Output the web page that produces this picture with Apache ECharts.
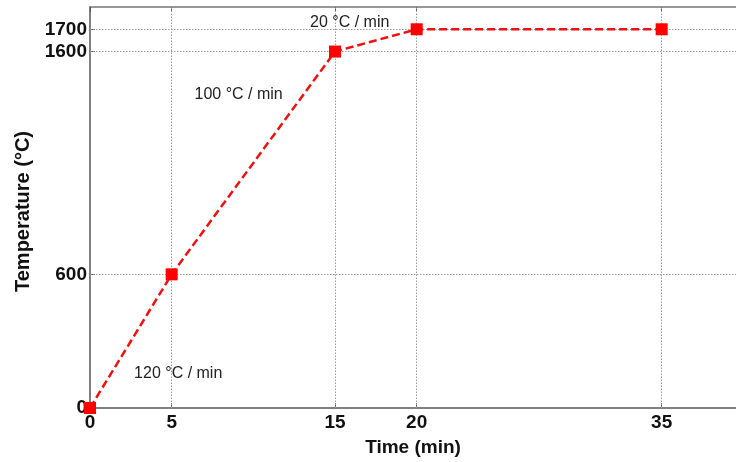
<!DOCTYPE html>
<html><head><meta charset="utf-8">
<script src="https://cdn.jsdelivr.net/npm/echarts@6/dist/echarts.min.js"></script>
<style>html,body{margin:0;padding:0;background:#fff}#c{width:736px;height:462px}</style>
</head><body><div id="c"></div>
<script>
var timeMin = [0, 5, 15, 20, 35];
var temperature = [0, 600, 1600, 1700, 1700];
var xTicks = [0, 5, 15, 20, 35];
var yTicks = [0, 600, 1600, 1700];
var rateLabels = ['120 °C / min', '100 °C / min', '20 °C / min'];
var rateLabelPos = [[5.4, 153], [9.1, 1409], [15.9, 1728]];

var chart = echarts.init(document.getElementById('c'));
var points = timeMin.map(function (t, i) { return [t, temperature[i]]; });
var gridLineStyle = { color: '#9a9a9a', type: [1.5, 1.5], width: 1 };
var vLines = xTicks.filter(function (v) { return v !== 0; }).map(function (v) { return { xAxis: v }; });
var hLines = yTicks.filter(function (v) { return v !== 0; }).map(function (v) { return { yAxis: v }; });
var fam = 'Liberation Sans, Arial, sans-serif';
var tickFont = { fontFamily: fam, fontWeight: 'bold', fontSize: 19, color: '#111' };
var plain = function (v) { return String(v); };

chart.setOption({
  animation: false,
  grid: { left: 90, top: 7, bottom: 54, right: 0 },
  xAxis: [{
    type: 'value', min: 0, max: 39.55, position: 'bottom',
    name: 'Time (min)', nameLocation: 'middle', nameGap: 30,
    nameTextStyle: { fontFamily: fam, fontWeight: 'bold', fontSize: 19, color: '#111' },
    axisLine: { show: true, onZero: false, lineStyle: { color: '#555', width: 1.5 } },
    axisTick: { show: true, inside: true, length: 5, customValues: xTicks, lineStyle: { color: '#555' } },
    axisLabel: Object.assign({ customValues: xTicks, margin: 5, formatter: plain }, tickFont),
    splitLine: { show: false }
  }, {
    type: 'value', min: 0, max: 39.55, position: 'top',
    axisLine: { show: true, onZero: false, lineStyle: { color: '#777', width: 1.5 } },
    axisTick: { show: true, inside: true, length: 5, customValues: xTicks, lineStyle: { color: '#555' } },
    axisLabel: { show: false },
    splitLine: { show: false }
  }],
  yAxis: {
    type: 'value', min: 0, max: 1800,
    name: 'Temperature (°C)', nameLocation: 'middle', nameGap: 57,
    nameTextStyle: { fontFamily: fam, fontWeight: 'bold', fontSize: 20, color: '#111', padding: [0, 8, 0, 0] },
    axisLine: { show: true, onZero: false, lineStyle: { color: '#555', width: 1.5 } },
    axisTick: { show: true, inside: true, length: 5, customValues: yTicks, lineStyle: { color: '#555' } },
    axisLabel: Object.assign({ customValues: yTicks, margin: 3, formatter: plain }, tickFont),
    splitLine: { show: false }
  },
  series: [{
    type: 'line', data: [], z: 1, silent: true,
    markLine: {
      silent: true, symbol: 'none', label: { show: false },
      lineStyle: gridLineStyle,
      data: vLines.concat(hLines)
    }
  }, {
    type: 'line', data: points, z: 5,
    symbol: 'rect', symbolSize: 12,
    itemStyle: { color: '#ff0000' },
    lineStyle: { color: '#ee1111', width: 2.5, type: [8, 4] },
    markPoint: {
      symbol: 'rect', symbolSize: 0,
      label: { show: true, position: 'inside', color: '#222', fontSize: 16, fontFamily: fam,
        formatter: function (p) { return p.name; } },
      data: rateLabels.map(function (s, i) { return { name: s, coord: rateLabelPos[i] }; })
    }
  }]
});
</script></body></html>
